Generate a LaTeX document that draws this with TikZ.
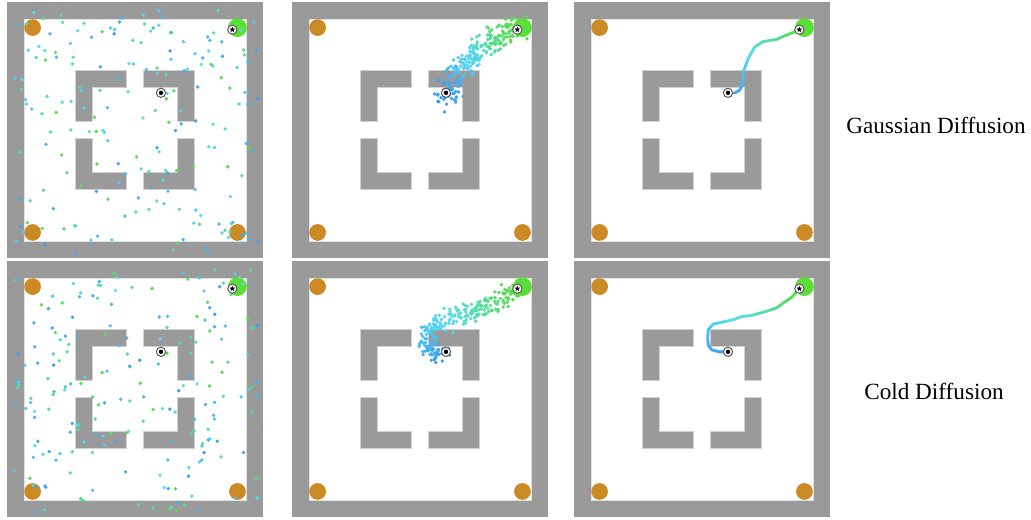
\documentclass[tikz,border=0pt]{standalone}
\usepackage{fontspec}
\setmainfont{Liberation Serif}
\usepackage{xcolor}
\usepackage{tikz}
\usetikzlibrary{shapes.geometric}
\definecolor{wallgray}{HTML}{9A9A9A}
\definecolor{orbcol}{HTML}{CB8A24}
\definecolor{goalcol}{HTML}{5ADF36}
\definecolor{ptblue}{HTML}{3A9CF2}
\definecolor{ptcyan}{HTML}{57DCF2}
\definecolor{ptgreen}{HTML}{56DF3A}
\tikzset{
  wall/.style    ={fill=wallgray, draw=black!18, line width=0.3pt},
  orb/.style     ={fill=orbcol},
  goalblob/.style={fill=goalcol},
  ring/.style    ={draw=black!65, fill=white, line width=0.5pt},
  starmk/.style  ={star, star points=5, star point ratio=2.2, fill=black, inner sep=0pt, minimum size=2.9pt},
  lbl/.style     ={font=\fontsize{11.6}{14}\selectfont},
  traj/.style    ={line width=1.4pt, line cap=round},
  panel/.style   ={x=8.535pt, y=-8.535pt},
}

\newcommand\settc[1]{%
  \pgfmathtruncatemacro\tcv{#1}%
  \ifnum\tcv<50 \pgfmathtruncatemacro\tcw{2*\tcv}\colorlet{tc}{ptcyan!\tcw!ptblue}%
  \else\pgfmathtruncatemacro\tcw{2*\tcv-100}\colorlet{tc}{ptgreen!\tcw!ptcyan}\fi}

\newcommand\mazebase{%
  \fill[wallgray] (0,0) rectangle (15,15);
  \fill[white, draw=black!12, line width=0.3pt] (1,1) rectangle (14,14);
  \path[wall] (4,4) -- (7,4) -- (7,5) -- (5,5) -- (5,7) -- (4,7) -- cycle;
  \path[wall] (8,4) -- (11,4) -- (11,7) -- (10,7) -- (10,5) -- (8,5) -- cycle;
  \path[wall] (4,8) -- (5,8) -- (5,10) -- (7,10) -- (7,11) -- (4,11) -- cycle;
  \path[wall] (10,8) -- (11,8) -- (11,11) -- (8,11) -- (8,10) -- (10,10) -- cycle;
  \path[orb] (1.5,1.5) circle (0.49);
  \path[orb] (1.5,13.5) circle (0.49);
  \path[orb] (13.5,13.5) circle (0.49);
  \path[goalblob] (13.5,1.5) circle (0.55);}

\newcommand\mazemarks[1]{%
  \path[ring] (9.02,5.32) circle (0.27);
  \fill[black] (9.02,5.32) circle (0.13);
  \path[ring] (13.2,1.62) circle (0.27);
  \node[starmk] (star#1) at (13.2,1.62) {};}

\newcommand\scatterall[2]{%
  \pgfmathsetseed{#1}
  \foreach \i in {1,...,#2}{
    \pgfmathsetmacro\dotx{0.4+rnd*14.4}
    \pgfmathsetmacro\doty{0.5+rnd*14.2}
    \pgfmathsetmacro\dotc{rnd*100}
    \settc{\dotc}
    \fill[tc] (\dotx,\doty) circle (0.11);
  }}

\newcommand\cloud[3]{%
  \pgfmathsetseed{#1}
  \foreach \xa/\ya/\xb/\yb/\ca/\cb/\nn in {#3}{
    \foreach \i in {1,...,\nn}{
      \pgfmathsetmacro\segt{rnd}
      \pgfmathsetmacro\dotx{\xa+\segt*(\xb-\xa)+#2*(rnd+rnd-1)}
      \pgfmathsetmacro\doty{\ya+\segt*(\yb-\ya)+#2*(rnd+rnd-1)}
      \settc{\ca+\segt*(\cb-\ca)}
      \fill[tc] (\dotx,\doty) circle (0.11);
    }}}

\newcommand\trajline[1]{%
  \foreach \x/\y/\c [remember=\x as \lx (initially 0), remember=\y as \ly (initially 0), remember=\c as \lc (initially -1)] in {#1}{
    \ifnum\lc>-1
      \foreach \k in {0,...,3}{
        \pgfmathsetmacro\xfa{\lx+(\x-\lx)*\k/4}
        \pgfmathsetmacro\yfa{\ly+(\y-\ly)*\k/4}
        \pgfmathsetmacro\xfb{\lx+(\x-\lx)*(\k+1)/4}
        \pgfmathsetmacro\yfb{\ly+(\y-\ly)*(\k+1)/4}
        \settc{\lc+(\c-\lc)*(\k+0.5)/4}
        \draw[traj, tc] (\xfa,\yfa) -- (\xfb,\yfb);
      }
    \fi
  }}

\begin{document}
\begin{tikzpicture}
  \useasboundingbox (0,0) rectangle (515.5pt,-259.5pt);

  \begin{scope}[shift={(3.5pt,-1pt)}, panel]
    \mazebase
    \scatterall{4127}{190}
    \mazemarks{a}
  \end{scope}

  \begin{scope}[shift={(146pt,-1pt)}, panel]
    \mazebase
    \cloud{5}{0.85}{9.0/5.4/9.2/5.8/0/5/20, 9.0/5.4/9.8/3.9/0/30/50, 9.8/3.9/11.0/2.8/30/60/65, 11.0/2.8/12.1/2.0/60/85/55, 12.1/2.0/13.3/1.5/85/100/50}
    \mazemarks{b}
  \end{scope}

  \begin{scope}[shift={(287pt,-1pt)}, panel]
    \mazebase
    \trajline{9.0/5.33/0, 9.4/5.33/8, 9.72/5.16/15, 9.88/4.67/25, 9.92/4.08/35, 10.21/3.30/48, 10.6/2.62/58, 11.09/2.32/66, 11.87/2.19/76, 12.46/1.93/86, 12.85/1.78/93, 13.2/1.64/100}
    \mazemarks{c}
  \end{scope}

  \begin{scope}[shift={(3.5pt,-130.5pt)}, panel]
    \mazebase
    \scatterall{9371}{205}
    \mazemarks{d}
  \end{scope}

  \begin{scope}[shift={(146pt,-130.5pt)}, panel]
    \mazebase
    \cloud{8}{0.7}{9.0/5.35/8.2/5.5/0/12/30, 8.2/5.5/7.8/4.5/12/28/30, 7.8/4.5/8.4/3.7/28/42/30, 8.4/3.7/10.3/3.1/42/62/55, 10.3/3.1/12.0/2.5/62/85/55, 12.0/2.5/13.2/1.6/85/100/45}
    \mazemarks{e}
  \end{scope}

  \begin{scope}[shift={(287pt,-130.5pt)}, panel]
    \mazebase
    \trajline{9.04/5.29/0, 8.55/5.33/5, 8.06/5.2/10, 7.87/4.94/15, 7.83/4.51/22, 7.87/4.02/30, 8.16/3.69/40, 8.75/3.57/46, 9.33/3.44/52, 9.82/3.26/57, 10.41/3.18/62, 11.09/3.0/68, 11.87/2.75/78, 12.26/2.46/86, 12.75/2.13/93, 13.2/1.62/100}
    \mazemarks{f}
  \end{scope}

  \node[lbl] (gausslbl) at (468pt,-62.5pt) {Gaussian Diffusion};
  \node[lbl] (coldlbl) at (467pt,-195.5pt) {Cold Diffusion};
\end{tikzpicture}
\end{document}
